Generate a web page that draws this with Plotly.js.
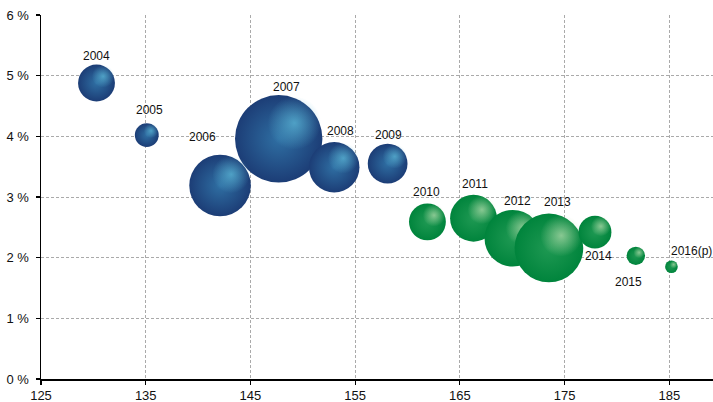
<!DOCTYPE html>
<html>
<head>
<meta charset="utf-8">
<script src="https://cdn.plot.ly/plotly-3.0.1.min.js"></script>
<style>
html,body{margin:0;padding:0;background:#fff;}
#chart{width:713px;height:402px;}
</style>
</head>
<body>
<div id="chart"></div>
<script>
// ---- data ----
var years   = ['2004','2005','2006','2007','2008','2009','2010','2011','2012','2013','2014','2015','2016(p)'];
var xValues = [130.3, 135.1, 142.1, 147.7, 153.0, 158.1, 161.9, 166.3, 170.05, 173.5, 177.9, 181.8, 185.2];
var yValues = [4.88, 4.02, 3.19, 3.96, 3.49, 3.55, 2.59, 2.65, 2.32, 2.16, 2.42, 2.03, 1.85];
var bubbleValues = [13.6, 5.7, 37.9, 76.4, 25.5, 15.8, 13.6, 21.9, 32.0, 47.2, 10.8, 3.4, 1.6];
var series  = ['blue','blue','blue','blue','blue','blue','green','green','green','green','green','green','green'];
var xTicks  = [125, 135, 145, 155, 165, 175, 185];
var yTicks  = [0, 1, 2, 3, 4, 5, 6];

// ---- styling / layout config ----
var FONT = "'Liberation Sans', Arial, sans-serif";
var W = 713, H = 402;
var M = {l: 41, r: 0, t: 15, b: 23};
var xRange = [125, 189.17];
var yRange = [0, 6];
var pxPerX = (W - M.l - M.r) / (xRange[1] - xRange[0]);
var pxPerY = (H - M.t - M.b) / (yRange[1] - yRange[0]);
var SIZEREF = 0.02; // plotly area mode: diameter = sqrt(2*v/sizeref)
function diam(v){ return Math.sqrt(2 * v / SIZEREF); }
function valFromDiam(d){ return d * d * SIZEREF / 2; }

var palette = {
  blue:  {edge: '#1c3d76', mid: '#2f6fa3', hi: 'rgba(96,192,222,1)', hiEdge: 'rgba(96,192,222,0)'},
  green: {edge: '#00843c', mid: '#1f9953', hi: 'rgba(188,225,178,1)', hiEdge: 'rgba(188,225,178,0)'}
};
// label offsets in px (dx right, dy up)
var labelOffsets = [[0,27],[3,25],[-18,48],[8,52],[6,36],[1,29],[-1,30],[1,34],[5,37],[9,46],[4,-24],[-7,-26],[20,16]];
var drawOrder = [3,0,1,2,4,5,6,7,8,9,10,11,12];

var traces = [];
drawOrder.forEach(function(i){
  var c = palette[series[i]];
  var d = diam(bubbleValues[i]);
  traces.push({
    type: 'scatter', mode: 'markers', x: [xValues[i]], y: [yValues[i]],
    hoverinfo: 'skip', showlegend: false,
    marker: {size: [bubbleValues[i]], sizemode: 'area', sizeref: SIZEREF, color: c.edge,
             line: {width: 0}, opacity: 1,
             gradient: {type: 'radial', color: c.mid}}
  });
  var off = 0.36 * d / 2;
  var hx = xValues[i] + off / pxPerX;
  var hy = yValues[i] + off / pxPerY;
  var hd = 1.22 * d / 2;
  traces.push({
    type: 'scatter', mode: 'markers', x: [hx], y: [hy],
    hoverinfo: 'skip', showlegend: false,
    marker: {size: [valFromDiam(hd)], sizemode: 'area', sizeref: SIZEREF, color: c.hiEdge,
             line: {width: 0},
             gradient: {type: 'radial', color: c.hi}}
  });
});

var annotations = years.map(function(yr, i){
  return {x: xValues[i], y: yValues[i], xref: 'x', yref: 'y', text: yr, showarrow: false,
          xshift: labelOffsets[i][0], yshift: labelOffsets[i][1],
          font: {family: FONT, size: 12, color: '#111'}};
});

var layout = {
  width: W, height: H,
  margin: M,
  paper_bgcolor: '#fff', plot_bgcolor: '#fff',
  showlegend: false,
  xaxis: {
    range: xRange, tickmode: 'array', tickvals: xTicks, ticktext: xTicks.map(String),
    showline: true, linecolor: '#000', linewidth: 1.5,
    ticks: 'outside', ticklen: 4, tickcolor: '#000', tickwidth: 1.2,
    showgrid: true, gridcolor: '#aaaaaa', gridwidth: 1, griddash: '3px,2px',
    zeroline: false, fixedrange: true, ticklabelstandoff: 0,
    tickfont: {family: FONT, size: 13, color: '#111'}
  },
  yaxis: {
    range: yRange, tickmode: 'array', tickvals: yTicks, ticktext: yTicks.map(function(v){return v + ' %';}),
    showline: true, linecolor: '#000', linewidth: 1.5,
    ticks: 'outside', ticklen: 4, tickcolor: '#000', tickwidth: 1.2,
    showgrid: true, gridcolor: '#aaaaaa', gridwidth: 1, griddash: '3px,2px',
    zeroline: false, fixedrange: true, ticklabelstandoff: 4,
    tickfont: {family: FONT, size: 13, color: '#111'}
  },
  annotations: annotations
};

Plotly.newPlot('chart', traces, layout, {displayModeBar: false, staticPlot: true});
</script>
</body>
</html>
